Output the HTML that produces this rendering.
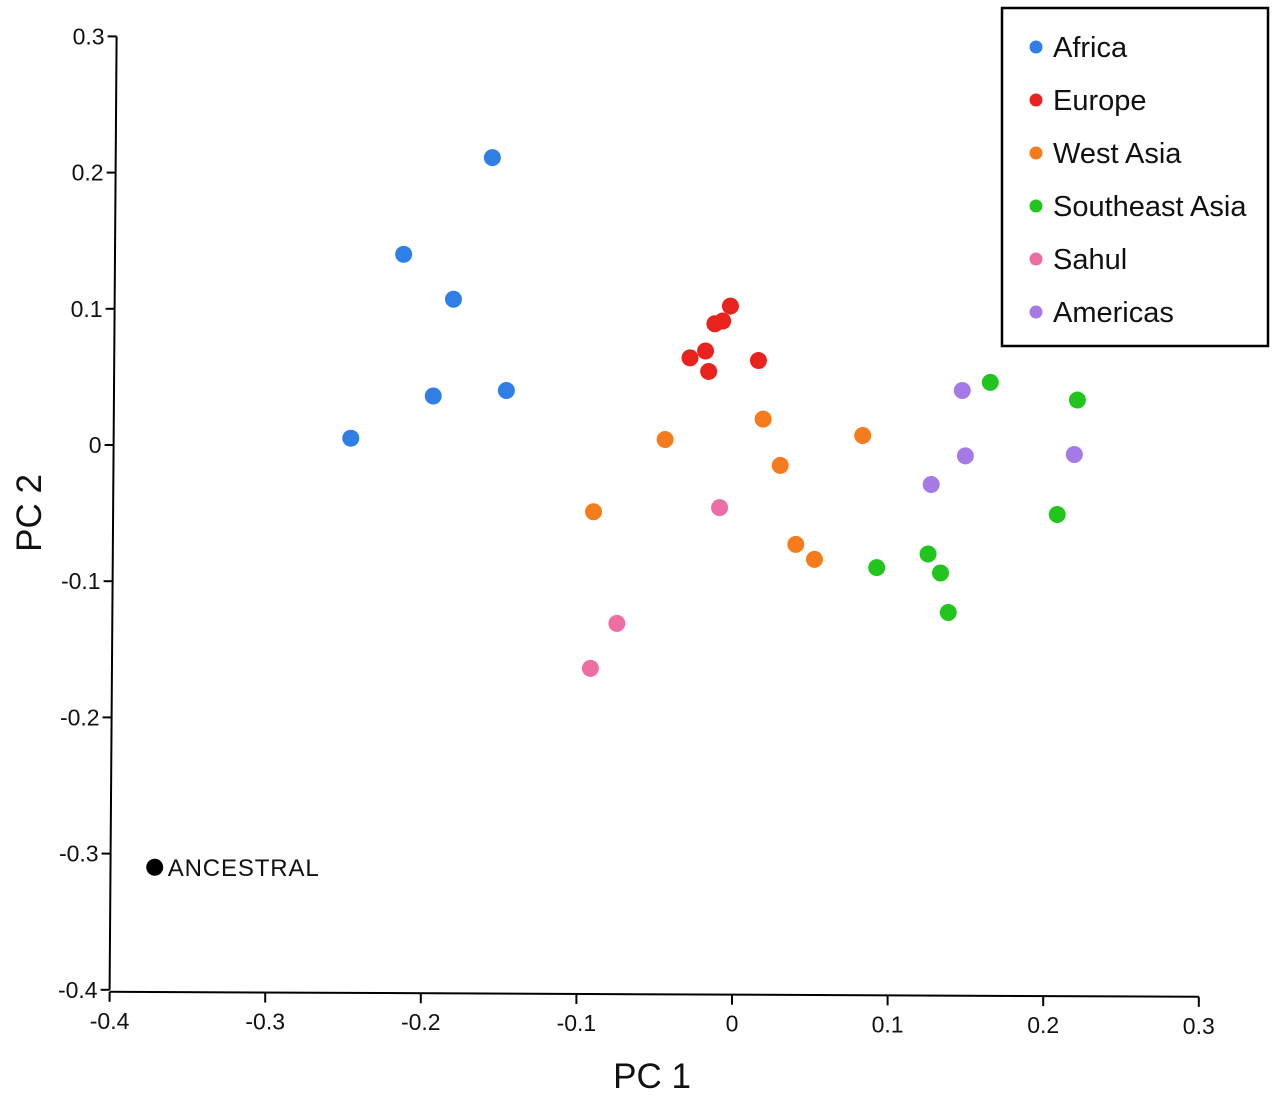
<!DOCTYPE html>
<html><head><meta charset="utf-8"><style>
body{margin:0;background:#fff;}
svg{display:block;font-family:"Liberation Sans",sans-serif;}
</style></head><body>
<svg id="chart" width="1280" height="1096">
<g id="axes"></g><g id="points"></g><g id="legend"></g>
</svg>
<script>
const xTicks=[-0.4,-0.3,-0.2,-0.1,0,0.1,0.2,0.3];
const xTickLabels=["-0.4","-0.3","-0.2","-0.1","0","0.1","0.2","0.3"];
const yTicks=[0.3,0.2,0.1,0,-0.1,-0.2,-0.3,-0.4];
const yTickLabels=["0.3","0.2","0.1","0","-0.1","-0.2","-0.3","-0.4"];
const groups=["Africa","Europe","West Asia","Southeast Asia","Sahul","Americas"];
const groupColors=["#2f7fe6","#e8221c","#f47c1c","#22c41e","#ee6ea4","#a57ae6"];
const africaX=[-0.154,-0.211,-0.179,-0.192,-0.145,-0.245];
const africaY=[0.211,0.140,0.107,0.036,0.040,0.005];
const europeX=[-0.001,-0.011,-0.006,-0.027,-0.017,-0.015,0.017];
const europeY=[0.102,0.089,0.091,0.064,0.069,0.054,0.062];
const westAsiaX=[0.020,-0.043,0.084,0.031,-0.089,0.041,0.053];
const westAsiaY=[0.019,0.004,0.007,-0.015,-0.049,-0.073,-0.084];
const seAsiaX=[0.166,0.222,0.209,0.093,0.126,0.134,0.139];
const seAsiaY=[0.046,0.033,-0.051,-0.090,-0.080,-0.094,-0.123];
const sahulX=[-0.008,-0.074,-0.091];
const sahulY=[-0.046,-0.131,-0.164];
const americasX=[0.148,0.150,0.128,0.220];
const americasY=[0.040,-0.008,-0.029,-0.007];
const ancestralX=[-0.371];
const ancestralY=[-0.310];
const seriesX=[africaX,europeX,westAsiaX,seAsiaX,sahulX,americasX];
const seriesY=[africaY,europeY,westAsiaY,seAsiaY,sahulY,americasY];

const NS="http://www.w3.org/2000/svg";
const X=v=>732+v*1556;
const Y=v=>445-v*1362;
const axisXAt=v=>X(-0.4)+7*(v+0.4)/0.7;
function mk(parent,tag,attrs,text){const e=document.createElementNS(NS,tag);for(const k in attrs)e.setAttribute(k,attrs[k]);if(text!==undefined)e.textContent=text;parent.appendChild(e);return e;}
const axes=document.getElementById('axes');
let e;
e=mk(axes,'line',{x1:axisXAt(0.3),y1:Y(0.3),x2:axisXAt(-0.4),y2:Y(-0.4),stroke:'#000','stroke-width':2});


e=mk(axes,'line',{x1:X(-0.4),y1:Y(-0.4)+2,x2:X(0.3),y2:Y(-0.4)+7,stroke:'#000','stroke-width':2});


xTicks.forEach((t,i)=>{
  const yb=Y(-0.4)+2+5*(t+0.4)/0.7;
  e=mk(axes,'line',{x1:X(t),y1:yb,x2:X(t),y2:yb+10,stroke:'#000','stroke-width':2});
  
  
  e=mk(axes,'text',{x:X(t),y:yb+37,'text-anchor':'middle','font-size':23,fill:'#111'},xTickLabels[i]);
  
  
});
yTicks.forEach((t,i)=>{
  const ax=axisXAt(t);
  e=mk(axes,'line',{x1:ax-9,y1:Y(t),x2:ax,y2:Y(t),stroke:'#000','stroke-width':2});
  
  
  e=mk(axes,'text',{x:ax-12,y:Y(t)+8,'text-anchor':'end','font-size':23,fill:'#111'},yTickLabels[i]);
  
  
});
e=mk(axes,'text',{x:652,y:1088,'text-anchor':'middle','font-size':35,fill:'#111'},'PC 1');


e=mk(axes,'text',{x:0,y:0,'text-anchor':'middle','font-size':35,fill:'#111',transform:'translate(41,513) rotate(-90)'},'PC 2');



const pts=document.getElementById('points');
seriesX.forEach((xs,g)=>{
  xs.forEach((v,i)=>{
    e=mk(pts,'circle',{cx:X(v),cy:Y(seriesY[g][i]),r:8.5,fill:groupColors[g]});
    
    
  });
});
ancestralX.forEach((v,i)=>{
  e=mk(pts,'circle',{cx:X(v),cy:Y(ancestralY[i]),r:8.5,fill:'#000'});
  
  
  e=mk(pts,'text',{x:X(v)+13,y:Y(ancestralY[i])+9,'font-size':24,fill:'#111',textLength:151},'ANCESTRAL');
  
  
});

const lg=document.getElementById('legend');
e=mk(lg,'rect',{x:1002,y:8,width:266,height:338,fill:'#fff',stroke:'#000','stroke-width':2.5});


groups.forEach((g,i)=>{
  const y=47+i*53;
  e=mk(lg,'circle',{cx:1036,cy:y,r:6.5,fill:groupColors[i]});
  
  
  e=mk(lg,'text',{x:1053,y:y+10,'font-size':29,fill:'#111'},g);
  
  
});
</script>
</body></html>
